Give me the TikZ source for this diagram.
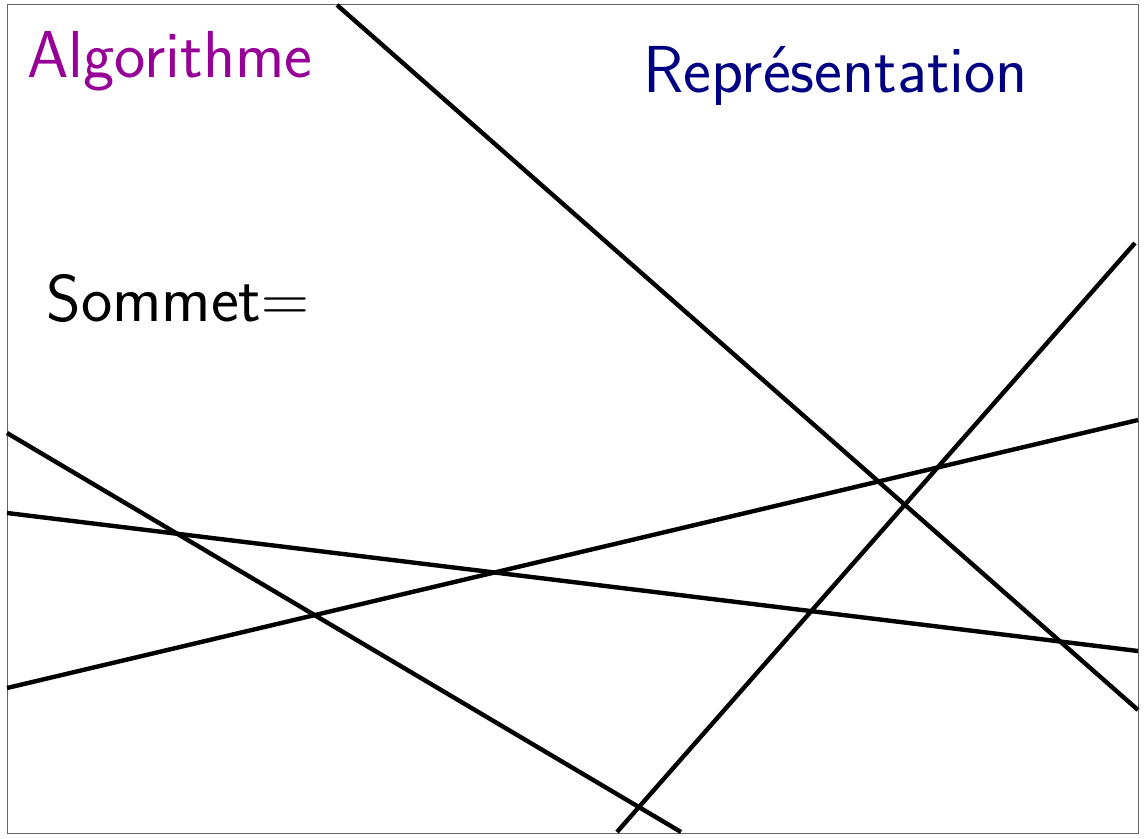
\RequirePackage{fix-cm}
\documentclass[tikz,border=0pt]{standalone}
\usepackage{fontspec}
\begin{document}
\begin{tikzpicture}[x=0.5pt,y=-0.5pt,
  frame/.style={draw=gray!80!black,line width=0.5pt},
  thickline/.style={draw=black,line width=2.2pt},
  label/.style={anchor=base west,inner sep=0pt,font=\sffamily\fontsize{33.2}{38}\selectfont}]
\definecolor{algcol}{RGB}{150,0,150}
\definecolor{repcol}{RGB}{0,0,130}
\useasboundingbox (0,0) rectangle (1145,839);
\draw[frame] (7,5) rectangle (1138,833);
\node[label,text=algcol] (alg) at (27,78) {Algorithme};
\node[label,text=repcol] (rep) at (643,93) {Représentation};
\node[label,text=black] (som) at (46,322) {Sommet$=$};
\coordinate (a1) at (337,5);   \coordinate (a2) at (1138,710);
\coordinate (b1) at (617,832); \coordinate (b2) at (1135,243);
\coordinate (c1) at (7,688);   \coordinate (c2) at (1138,420);
\coordinate (d1) at (7,513);   \coordinate (d2) at (1138,651);
\coordinate (e1) at (7,433);   \coordinate (e2) at (681,832);
\draw[thickline] (a1) -- (a2);
\draw[thickline] (b1) -- (b2);
\draw[thickline] (c1) -- (c2);
\draw[thickline] (d1) -- (d2);
\draw[thickline] (e1) -- (e2);
\end{tikzpicture}
\end{document}
